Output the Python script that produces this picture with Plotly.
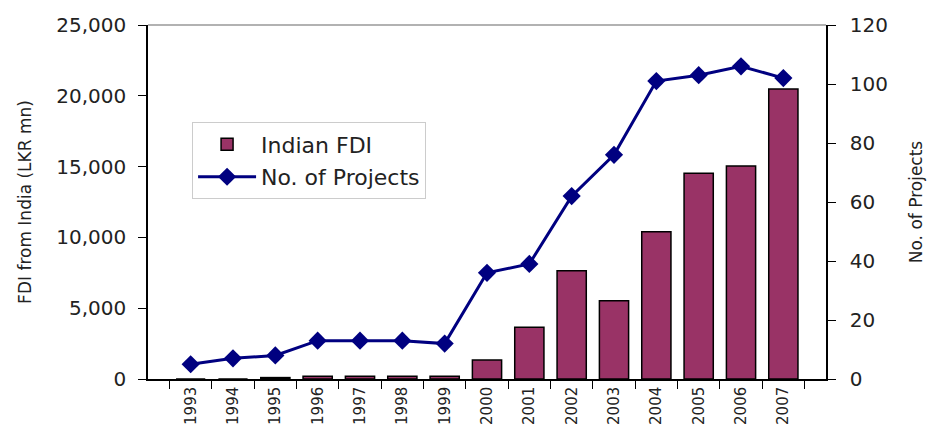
import plotly.graph_objects as go

years = ["1993", "1994", "1995", "1996", "1997", "1998", "1999", "2000",
         "2001", "2002", "2003", "2004", "2005", "2006", "2007"]
fdi = [0, 0, 100, 200, 200, 200, 200, 1340, 3650, 7650, 5530, 10400, 14530, 15040, 20480]
projects = [5, 7, 8, 13, 13, 13, 12, 36, 39, 62, 76, 101, 103, 106, 102]
fdi_ticks = [0, 5000, 10000, 15000, 20000, 25000]
proj_ticks = [0, 20, 40, 60, 80, 100, 120]

font_family = "DejaVu Sans, Liberation Sans, Arial, sans-serif"
txt = "#222222"

fig = go.Figure()
fig.add_trace(go.Bar(
    x=years, y=fdi, name="Indian FDI", legendgroup="a",
    marker=dict(color="#993366", line=dict(color="#000000", width=1.5)),
    yaxis="y",
))
fig.add_trace(go.Scatter(
    x=years, y=projects, name="No. of Projects", mode="lines+markers", legendgroup="b",
    line=dict(color="#000080", width=3),
    marker=dict(symbol="diamond", size=14, color="#000080"),
    yaxis="y2",
))

axis_common = dict(showgrid=False, zeroline=False, tickcolor="#000000")

fig.update_layout(
    width=929, height=440,
    margin=dict(l=148, r=103, t=25, b=61),
    plot_bgcolor="white", paper_bgcolor="white",
    font=dict(family=font_family, size=19, color=txt),
    bargap=0.31,
    showlegend=True,
    legend=dict(
        x=0.065, y=0.725, xanchor="left", yanchor="top",
        bgcolor="white", bordercolor="#cccccc", borderwidth=1,
        font=dict(size=22, family=font_family, color=txt),
        tracegroupgap=1, itemwidth=58,
    ),
    xaxis=dict(
        type="category", tickangle=-90, **axis_common, automargin=False,
        showline=True, linecolor="#000000", linewidth=1.5,
        ticks="outside", tickson="boundaries", ticklen=8,
        tickfont=dict(size=15),
    ),
    yaxis=dict(
        range=[0, 25000], tickvals=fdi_ticks, tickformat=",", **axis_common,
        automargin=False,
        showline=True, linecolor="#000000", linewidth=1.5,
        ticks="outside", ticklen=8, ticklabelstandoff=8,
        title=dict(text="FDI from India (LKR mn)", font=dict(size=17), standoff=20),
        tickfont=dict(size=20),
    ),
    yaxis2=dict(
        range=[0, 120], tickvals=proj_ticks,
        overlaying="y", side="right", **axis_common, automargin=False,
        showline=True, linecolor="#000000", linewidth=1.5,
        ticks="outside", ticklen=8, ticklabelstandoff=10,
        title=dict(text="No. of Projects", font=dict(size=17), standoff=23),
        tickfont=dict(size=20),
    ),
    shapes=[dict(type="line", xref="paper", yref="paper", x0=0, x1=1, y0=1, y1=1,
                 line=dict(color="#999999", width=1.5))],
)

fig.write_html("out.html")
